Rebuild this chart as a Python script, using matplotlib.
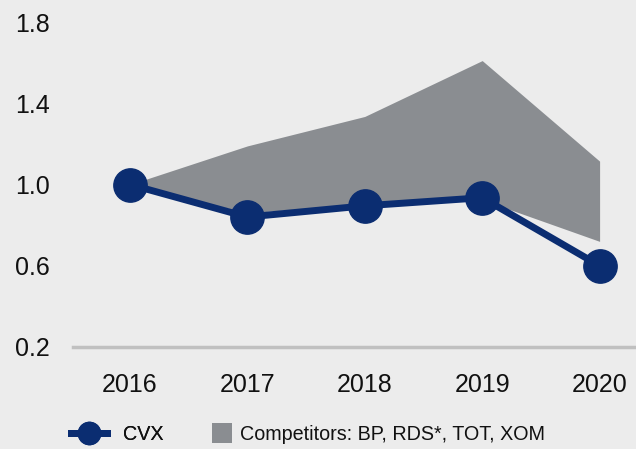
import matplotlib.pyplot as plt
from matplotlib.lines import Line2D

years = [2016, 2017, 2018, 2019, 2020]
cvx = [1.0, 0.84, 0.895, 0.935, 0.60]
comp_high = [1.0, 1.19, 1.335, 1.61, 1.115]
comp_low = [1.0, 0.86, 0.905, 0.925, 0.72]
y_ticks = [0.2, 0.6, 1.0, 1.4, 1.8]

navy = '#0b2d71'
band = '#8a8d91'
bg = '#ececec'

plt.rcParams['font.family'] = ['Liberation Sans', 'DejaVu Sans']

fig = plt.figure(figsize=(6.36, 4.49), dpi=100, facecolor=bg)
ax = fig.add_axes([73 / 636, 102 / 449, 563 / 636, 325 / 449], facecolor=bg)

ax.fill_between(years, comp_low, comp_high, color=band, linewidth=0, zorder=1)
ax.plot(years, cvx, color=navy, linewidth=5, marker='o', markersize=24,
        zorder=3, clip_on=False)

ax.set_xlim(2015.515, 2020.31)
ax.set_ylim(0.2, 1.8)
ax.set_xticks(years)
ax.set_yticks(y_ticks)
ax.set_yticklabels([f'{v:.1f}' for v in y_ticks])
ax.tick_params(axis='both', length=0, labelsize=18, colors='#111111')
ax.tick_params(axis='x', pad=19)
ax.tick_params(axis='y', pad=17)

for side in ['top', 'right', 'left']:
    ax.spines[side].set_visible(False)
ax.spines['bottom'].set_color('#c0c0c0')
ax.spines['bottom'].set_linewidth(2.5)

# legend, two separate entries so spacing matches
fs = 14.2
cvx_handle = Line2D([0], [0], color=navy, linewidth=5, marker='o', markersize=16)
leg1 = fig.legend([cvx_handle], ['CVX'], loc='center left',
                  bbox_to_anchor=(71 / 636, 1 - 434 / 449), frameon=False,
                  fontsize=fs, handlelength=1.8, handletextpad=0.85,
                  borderpad=0, borderaxespad=0, labelcolor='#111111')
comp_handle = Line2D([0], [0], color=band, linestyle='none', marker='s',
                     markersize=14, markeredgewidth=0)
fig.legend([comp_handle], ['Competitors: BP, RDS*, TOT, XOM'], loc='center left',
           bbox_to_anchor=(212 / 636, 1 - 434 / 449), frameon=False,
           fontsize=fs, handlelength=0.97, handletextpad=0.45,
           borderpad=0, borderaxespad=0, labelcolor='#111111')
fig.add_artist(leg1)

fig.savefig('out.png', dpi=100, facecolor=bg)
